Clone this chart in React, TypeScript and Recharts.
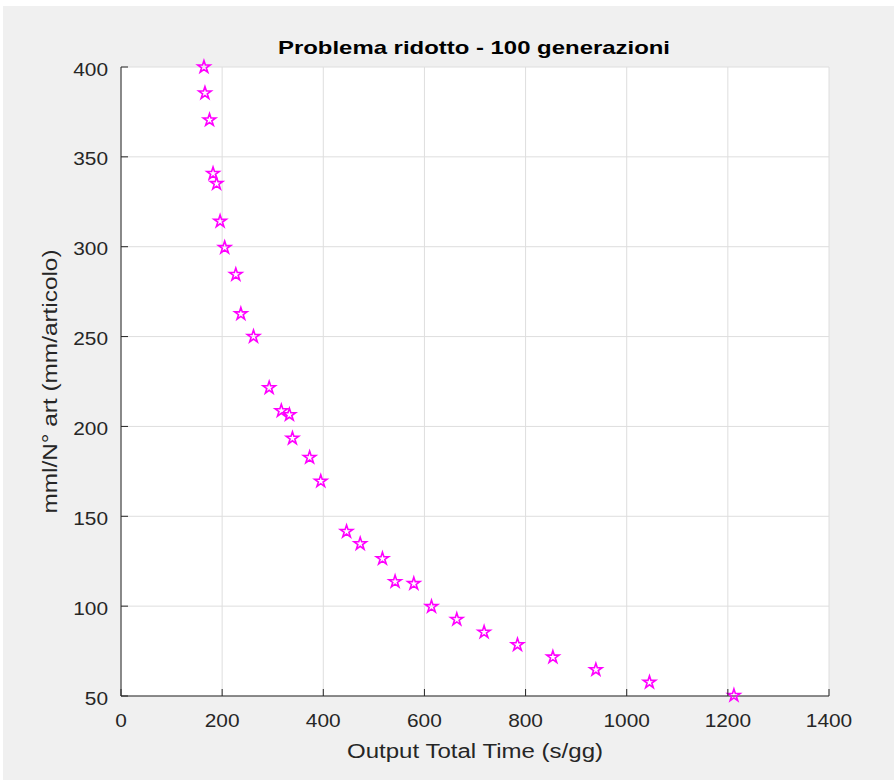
import React from 'react';
import { ScatterChart, Scatter, XAxis, YAxis, CartesianGrid, Label } from 'recharts';

const outputTime = [164, 166, 175, 182, 189, 196, 205, 227, 237, 262, 293, 317, 333, 339, 373, 395, 446, 473, 517, 542, 579, 614, 664, 718, 784, 854, 939, 1045, 1212];
const mmlPerArt = [400, 385.5, 370.5, 340.7, 335.1, 314.1, 299.5, 284.5, 262.6, 250, 221.5, 208.7, 206.5, 193.4, 182.7, 169.5, 141.5, 134.7, 126.4, 113.6, 112.5, 99.7, 92.6, 85.5, 78.5, 71.6, 64.6, 57.6, 50.3];
const xTicks = [0, 200, 400, 600, 800, 1000, 1200, 1400];
const yTicks = [50, 100, 150, 200, 250, 300, 350, 400];
const titleText = 'Problema ridotto - 100 generazioni';
const xLabelText = 'Output Total Time (s/gg)';
const yLabelText = 'mml/N° art (mm/articolo)';

const data = outputTime.map((x, i) => ({ x, y: mmlPerArt[i] }));

const FONT = '"Liberation Sans", Arial, Helvetica, sans-serif';
const AXIS_COLOR = '#262626';
const DIGIT_W = 11.6;

const XTick = (props: any) => {
  const { x, y, payload } = props;
  const s = String(payload.value);
  return (
    <g>
      <line x1={x} y1={y} x2={x} y2={y - 7} stroke={AXIS_COLOR} strokeWidth={1} />
      <text x={x} y={y + 31} textAnchor="middle" fontSize={19} fill={AXIS_COLOR} fontFamily={FONT}
        textLength={s.length * DIGIT_W} lengthAdjust="spacingAndGlyphs">{s}</text>
    </g>
  );
};

const YTick = (props: any) => {
  const { x, y, payload } = props;
  const s = String(payload.value);
  return (
    <g>
      <line x1={x} y1={y} x2={x + 7} y2={y} stroke={AXIS_COLOR} strokeWidth={1} />
      <text x={x - 13} y={y + 8.5} textAnchor="end" fontSize={19} fill={AXIS_COLOR} fontFamily={FONT}
        textLength={s.length * DIGIT_W} lengthAdjust="spacingAndGlyphs">{s}</text>
    </g>
  );
};

const Star = (props: any) => {
  const { cx, cy } = props;
  if (cx == null || cy == null) return null;
  const R = 6.5;
  const r = R * 0.382;
  const pts: string[] = [];
  for (let i = 0; i < 10; i++) {
    const rad = i % 2 === 0 ? R : r;
    const a = -Math.PI / 2 + (i * Math.PI) / 5;
    pts.push(`${cx + rad * Math.cos(a)},${cy + rad * Math.sin(a)}`);
  }
  return <polygon points={pts.join(' ')} fill="none" stroke="#ff00ff" strokeWidth={1.6} strokeLinejoin="miter" />;
};

const XLabelContent = (props: any) => {
  const vb = props.viewBox || { x: 121, y: 696, width: 708 };
  return (
    <text x={vb.x + vb.width / 2} y={vb.y + 62} textAnchor="middle" fontSize={20} fill={AXIS_COLOR} fontFamily={FONT}
      textLength={256} lengthAdjust="spacingAndGlyphs">{xLabelText}</text>
  );
};

const YLabelContent = (props: any) => {
  const vb = props.viewBox || { x: 61, y: 67, height: 629 };
  const cx = vb.x - 4;
  const cy = vb.y + vb.height / 2;
  return (
    <text x={cx} y={cy} transform={`rotate(-90, ${cx}, ${cy})`} textAnchor="middle" fontSize={20} fill={AXIS_COLOR}
      fontFamily={FONT} textLength={264} lengthAdjust="spacingAndGlyphs">{yLabelText}</text>
  );
};

export default function App() {
  return (
    <div style={{ position: 'absolute', left: 0, top: 0, width: 894, height: 780, background: '#ffffff', overflow: 'hidden' }}>
      <div style={{ position: 'absolute', left: 3, top: 6, right: 0, bottom: 0, background: '#f0f0f0' }} />
      <div style={{ position: 'absolute', left: 0, top: 0 }}>
        <ScatterChart width={894} height={780} margin={{ top: 67, right: 65, bottom: 24, left: 61 }}>
          <CartesianGrid stroke="#dedede" strokeWidth={1} fill="#ffffff" fillOpacity={1} />
          <XAxis type="number" dataKey="x" domain={[0, 1400]} ticks={xTicks} interval={0} height={60}
            tickSize={0} tickMargin={0} tick={<XTick />} axisLine={{ stroke: AXIS_COLOR, strokeWidth: 1 }} tickLine={false}>
            <Label content={<XLabelContent />} />
          </XAxis>
          <YAxis type="number" dataKey="y" domain={[50, 400]} ticks={yTicks} interval={0} width={60}
            tickSize={0} tickMargin={0} tick={<YTick />} axisLine={{ stroke: AXIS_COLOR, strokeWidth: 1 }} tickLine={false}>
            <Label content={<YLabelContent />} />
          </YAxis>
          <Scatter data={data} shape={<Star />} isAnimationActive={false} />
          <text x={474} y={54} textAnchor="middle" fontSize={19} fontWeight="bold" fill="#000000" fontFamily={FONT}
            textLength={392} lengthAdjust="spacingAndGlyphs">{titleText}</text>
        </ScatterChart>
      </div>
    </div>
  );
}
